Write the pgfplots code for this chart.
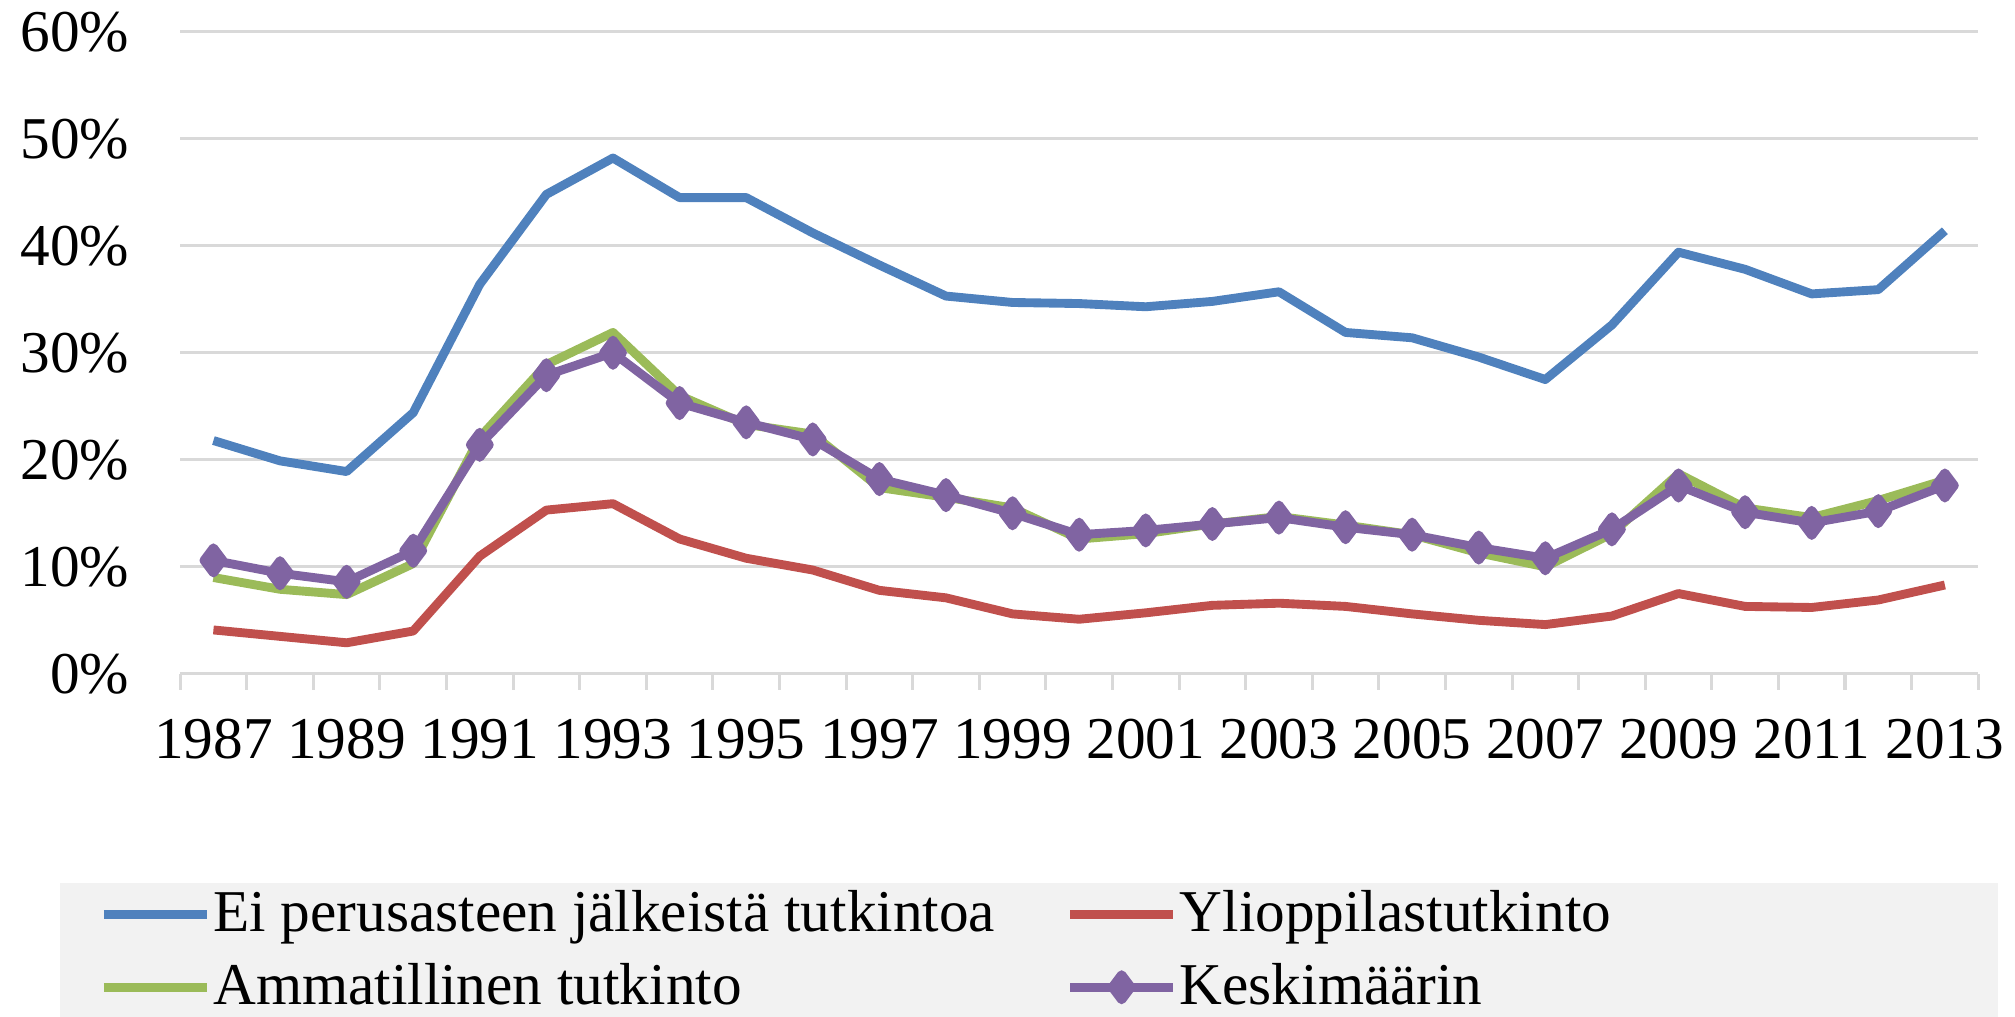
\documentclass[border=0pt]{standalone}
\usepackage{pgfplots}
\pgfplotsset{compat=1.18}
\usepackage{pgfplotstable}
\usepackage{fontspec}
\setmainfont{Liberation Serif}
\definecolor{cblue}{HTML}{4F81BD}
\definecolor{cred}{HTML}{C0504D}
\definecolor{cgreen}{HTML}{9BBB59}
\definecolor{cpurple}{HTML}{8064A2}
\definecolor{gridc}{HTML}{D9D9D9}
\definecolor{legfill}{HTML}{F2F2F2}

\pgfplotstableread{
year blue red green purple
1987 21.8 4.1 9.0 10.6
1988 19.9 3.5 7.9 9.4
1989 18.9 2.9 7.4 8.6
1990 24.4 4.0 10.3 11.5
1991 36.4 11.0 22.1 21.4
1992 44.8 15.3 28.9 27.9
1993 48.2 15.9 31.9 30.0
1994 44.5 12.6 26.0 25.3
1995 44.5 10.8 23.3 23.5
1996 41.2 9.7 22.4 21.9
1997 38.2 7.8 17.4 18.2
1998 35.3 7.1 16.5 16.7
1999 34.7 5.6 15.5 15.0
2000 34.6 5.1 12.6 13.0
2001 34.3 5.7 13.1 13.4
2002 34.8 6.4 14.0 14.0
2003 35.7 6.6 14.7 14.6
2004 31.9 6.3 13.9 13.7
2005 31.4 5.6 13.0 13.0
2006 29.6 5.0 11.3 11.8
2007 27.5 4.6 10.0 10.8
2008 32.6 5.4 13.1 13.5
2009 39.4 7.5 18.7 17.6
2010 37.8 6.3 15.5 15.1
2011 35.5 6.2 14.6 14.1
2012 35.9 6.9 16.2 15.2
2013 41.4 8.3 18.1 17.6
}\datatable

\begin{document}
\begin{tikzpicture}
\begin{axis}[
  name=a,
  scale only axis,
  width=385.3pt, height=137.6pt,
  xmin=1986.5, xmax=2013.5, ymin=0, ymax=60,
  xtick={1987,1989,...,2013},
  minor xtick={1986.5,1987.5,...,2013.5},
  ytick={0,10,...,60},
  yticklabel={\pgfmathprintnumber{\tick}\%},
  /pgf/number format/assume math mode=true,
  x tick label style={/pgf/number format/1000 sep={}, yshift=-6.2pt},
  y tick label style={xshift=-7.4pt},
  tick label style={font=\fontsize{12.7}{15}\selectfont},
  axis x line*=bottom, axis y line*=left,
  x axis line style={draw=gridc, line width=0.65pt},
  y axis line style={draw=none},
  tick align=outside,
  major tick length=0pt, minor tick length=3.4pt,
  tick style={draw=gridc, line width=0.65pt},
  ytick style={draw=none},
  ymajorgrids,
  major grid style={draw=gridc, line width=0.65pt},
  legend columns=2,
  legend cell align=left,
  legend image code/.code={\draw[mark repeat=2,mark phase=2,#1] plot coordinates {(0pt,0pt) (11pt,0pt) (22pt,0pt)};},
  legend style={at={(-0.0672,-0.3241)}, anchor=north west, fill=legfill, draw=none,
    inner xsep=8.4pt, inner ysep=1.2pt, row sep=4.2pt, column sep=0pt,
    nodes={inner sep=0.5pt, text depth=0.15em},
    font=\fontsize{12.7}{15}\selectfont},
]
\addplot[cblue, line width=1.9pt, line join=round] table[x=year,y=blue]{\datatable};
\addlegendentry{\makebox[182.2pt][l]{Ei perusasteen jälkeistä tutkintoa}}
\addplot[cred, line width=1.9pt, line join=round] table[x=year,y=red]{\datatable};
\addlegendentry{\makebox[166.4pt][l]{Ylioppilastutkinto}}
\addplot[cgreen, line width=1.9pt, line join=round] table[x=year,y=green]{\datatable};
\addlegendentry{\makebox[182.2pt][l]{Ammatillinen tutkinto}}
\addplot[cpurple, line width=1.9pt, line join=round, mark=diamond*, mark size=2.7pt, mark options={solid}] table[x=year,y=purple]{\datatable};
\addlegendentry{\makebox[166.4pt][l]{Keskimäärin}}
\end{axis}
\pgfresetboundingbox
\path[use as bounding box] ([shift={(-38.6pt,-73.5pt)}]a.south west) rectangle ([shift={(7.9pt,6.8pt)}]a.north east);
\end{tikzpicture}
\end{document}
